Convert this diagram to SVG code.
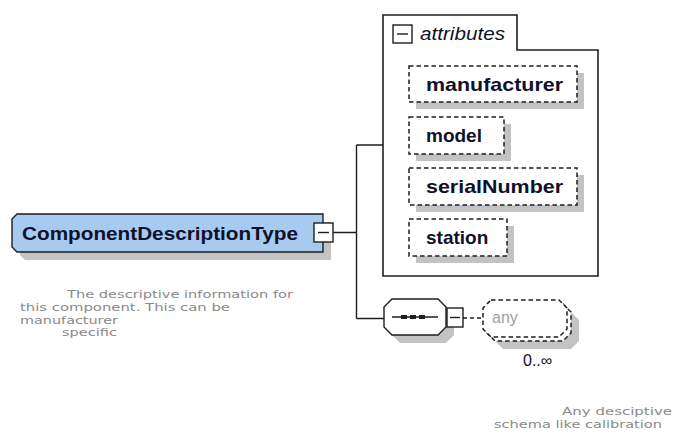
<svg xmlns="http://www.w3.org/2000/svg" width="676" height="440" viewBox="0 0 676 440">
<style>
.ln{fill:none;stroke:#1e1e1e;stroke-width:1.4}
.sh{fill:#c3c3c3;stroke:none}
.box{fill:#fff;stroke:#1e1e1e;stroke-width:1.4}
.dash{fill:#fff;stroke:#1e1e1e;stroke-width:1.5;stroke-dasharray:4.5,3}
.lbl{font-family:"Liberation Sans",Arial,sans-serif;font-weight:bold;font-size:19px;fill:#10102a}
.doc{font-family:"DejaVu Sans","Liberation Sans",sans-serif;font-size:11.2px;fill:#8a8a8a}
</style>
<g id="connectors">
<path class="ln" d="M333,232.5H356.5M356.5,145V318.5M356.5,145H383M356.5,318.5H384"/>
<path class="ln" d="M463,318H483" stroke-dasharray="4,3"/>
</g>
<g id="ComponentDescriptionType">
<polygon class="sh" points="25,222 331,222 331,260 25,260 20,255 20,227"/>
<polygon points="17,214 323,214 323,252 17,252 12,247 12,219" fill="#a6caf0" stroke="#1e1e1e" stroke-width="1.4"/>
<text class="lbl" x="22" y="240" textLength="276" lengthAdjust="spacingAndGlyphs">ComponentDescriptionType</text>
<rect class="box" x="314" y="223" width="19" height="19"/>
<path class="ln" d="M318,232.5H329"/>
</g>
<g id="attributes">
<path d="M383,15H517V50H598V276H383Z" fill="#fff" stroke="#1e1e1e" stroke-width="1.6"/>
<rect class="box" x="393" y="25" width="19" height="18"/>
<path class="ln" d="M397,34H408"/>
<text x="420" y="40" font-family="'Liberation Sans',Arial,sans-serif" font-style="italic" font-size="18" fill="#10102a" textLength="85" lengthAdjust="spacingAndGlyphs">attributes</text>
</g>
<g id="manufacturer">
<rect class="sh" x="416" y="73" width="168" height="36"/>
<rect class="dash" x="409" y="66" width="168" height="36"/>
<text class="lbl" x="426" y="91" textLength="137" lengthAdjust="spacingAndGlyphs">manufacturer</text>
</g>
<g id="model">
<rect class="sh" x="416" y="124" width="95" height="37"/>
<rect class="dash" x="409" y="117" width="95" height="37"/>
<text class="lbl" x="426" y="142">model</text>
</g>
<g id="serialNumber">
<rect class="sh" x="416" y="175" width="168" height="37"/>
<rect class="dash" x="409" y="168" width="168" height="37"/>
<text class="lbl" x="426" y="193" textLength="137" lengthAdjust="spacingAndGlyphs">serialNumber</text>
</g>
<g id="station">
<rect class="sh" x="416" y="226" width="98" height="37"/>
<rect class="dash" x="409" y="219" width="98" height="37"/>
<text class="lbl" x="426" y="244">station</text>
</g>
<g id="sequence">
<polygon class="sh" points="400,307 446,307 454,315 454,335 446,343 400,343 392,335 392,315"/>
<polygon class="box" points="392,299 438,299 446,307 446,327 438,335 392,335 384,327 384,307"/>
<path class="ln" d="M392,317H438"/>
<rect x="401" y="315" width="6" height="4" fill="#1e1e1e"/>
<rect x="410" y="315" width="6" height="4" fill="#1e1e1e"/>
<rect x="419" y="315" width="6" height="4" fill="#1e1e1e"/>
<rect class="box" x="447" y="308" width="16" height="19"/>
<path class="ln" d="M450,317.5H460"/>
</g>
<g id="any">
<polygon class="sh" points="503,312 571,312 579,320 579,341 571,349 503,349 495,341 495,320"/>
<polygon class="dash" points="495,304 563,304 571,312 571,333 563,341 495,341 487,333 487,312"/>
<polygon class="dash" points="491,300 559,300 567,308 567,329 559,337 491,337 483,329 483,308"/>
<text x="492" y="323" font-family="'Liberation Sans',Arial,sans-serif" font-size="16" fill="#a0a0a0">any</text>
<text x="523" y="366" font-family="'Liberation Sans',Arial,sans-serif" font-size="16" fill="#10102a">0..∞</text>
</g>
<g id="doc-component">
<text class="doc" x="67" y="298" textLength="226" lengthAdjust="spacingAndGlyphs">The descriptive information for</text>
<text class="doc" x="20" y="311" textLength="210" lengthAdjust="spacingAndGlyphs">this component. This can be</text>
<text class="doc" x="20" y="323.5" textLength="98" lengthAdjust="spacingAndGlyphs">manufacturer</text>
<text class="doc" x="62" y="336" textLength="55" lengthAdjust="spacingAndGlyphs">specific</text>
</g>
<g id="doc-any">
<text class="doc" x="672" y="415" text-anchor="end" textLength="110" lengthAdjust="spacingAndGlyphs">Any desciptive</text>
<text class="doc" x="662" y="428" text-anchor="end" textLength="168" lengthAdjust="spacingAndGlyphs">schema like calibration</text>
</g>
</svg>
